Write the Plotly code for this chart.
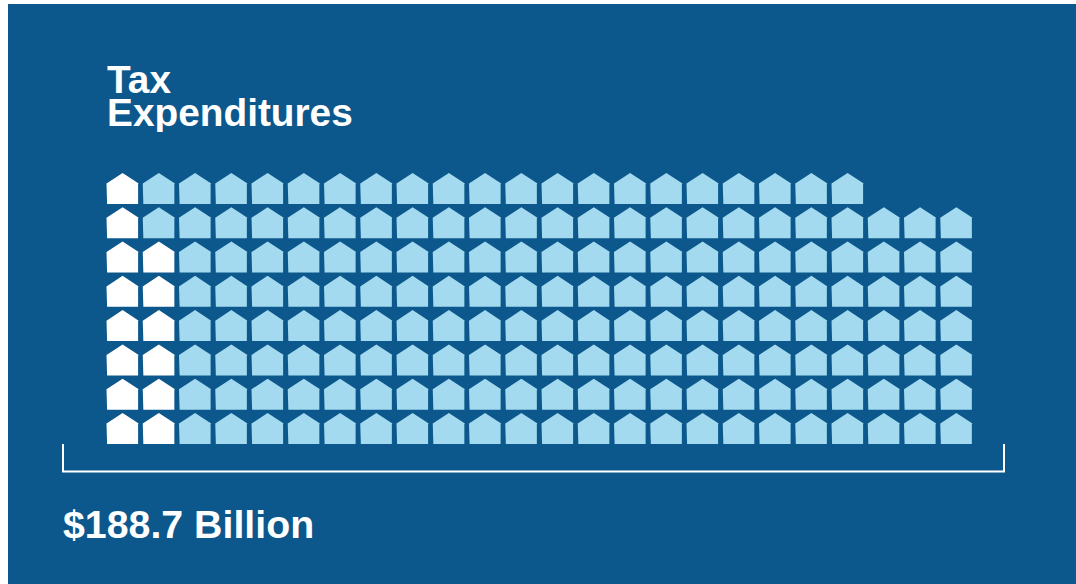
import plotly.graph_objects as go

# Each house stands for $1 billion of spending. Rows run bottom to top.
houses_per_row = [24, 24, 24, 24, 24, 24, 24, 21]
white_per_row = [2, 2, 2, 2, 2, 2, 1, 1]
title_lines = ["Tax", "Expenditures"]
total_label = "$188.7 Billion"

NAVY = "#0c588d"
SKY = "#a3daef"
WHITE = "#ffffff"
W, H = 1076, 584
PANEL_LEFT, PANEL_TOP = 8, 4
COL_PITCH, ROW_PITCH = 36.25, 34.3
FIRST_COL_X, BASE_Y = 122.6, 444.0

# House outline in pixels, relative to the centre of its base.
HOUSE = [(-15.5, 0), (-15.5, -20), (-16.1, -20.4), (0, -31), (16.1, -20.4), (15.5, -20), (15.5, 0), (-15.5, 0)]


def house_paths(picker):
    xs, ys = [], []
    for r, count in enumerate(houses_per_row):
        for c in range(count):
            if not picker(r, c):
                continue
            for dx, dy in HOUSE:
                xs.append(c + dx / COL_PITCH)
                ys.append(r - dy / ROW_PITCH)
            xs.append(None)
            ys.append(None)
    return xs, ys


def px(x):
    return (x - FIRST_COL_X) / COL_PITCH


def py(y):
    return (BASE_Y - y) / ROW_PITCH


fig = go.Figure()
for color, picker in [
    (WHITE, lambda r, c: c < white_per_row[r]),
    (SKY, lambda r, c: c >= white_per_row[r]),
]:
    xs, ys = house_paths(picker)
    fig.add_trace(go.Scatter(x=xs, y=ys, mode="lines", fill="toself", fillcolor=color,
                             line=dict(width=0, color=color), hoverinfo="skip", showlegend=False))

# Bracket under the grid spanning its full width.
fig.add_trace(go.Scatter(
    x=[px(63), px(63), px(1004), px(1004)],
    y=[py(444), py(471.5), py(471.5), py(444)],
    mode="lines", line=dict(color=WHITE, width=2), hoverinfo="skip", showlegend=False,
))

FONT = "Liberation Sans"
# The two title lines sit closer than the default line box, so each gets a fixed box height.
for text, y_mid, box_h in [(title_lines[0], 78.5, 30), (title_lines[1], 112, 40)]:
    fig.add_annotation(x=px(104.5), y=py(y_mid), text=f"<b>{text}</b>", showarrow=False, xanchor="left",
                       yanchor="middle", height=box_h, font=dict(family=FONT, size=38.8, color=WHITE))
fig.add_annotation(x=px(60.5), y=py(524), text=f"<b>{total_label}</b>", showarrow=False, xanchor="left",
                   yanchor="middle", font=dict(family=FONT, size=39.3, color=WHITE))

axis = dict(visible=False, fixedrange=True)
fig.update_layout(
    width=W, height=H, margin=dict(l=0, r=0, t=0, b=0),
    paper_bgcolor=WHITE, plot_bgcolor=NAVY, showlegend=False,
    xaxis=dict(axis, domain=[PANEL_LEFT / W, 1], range=[px(PANEL_LEFT), px(W)]),
    yaxis=dict(axis, domain=[0, 1 - PANEL_TOP / H], range=[py(H), py(PANEL_TOP)]),
)
fig.write_html("out.html", config=dict(displayModeBar=False))
